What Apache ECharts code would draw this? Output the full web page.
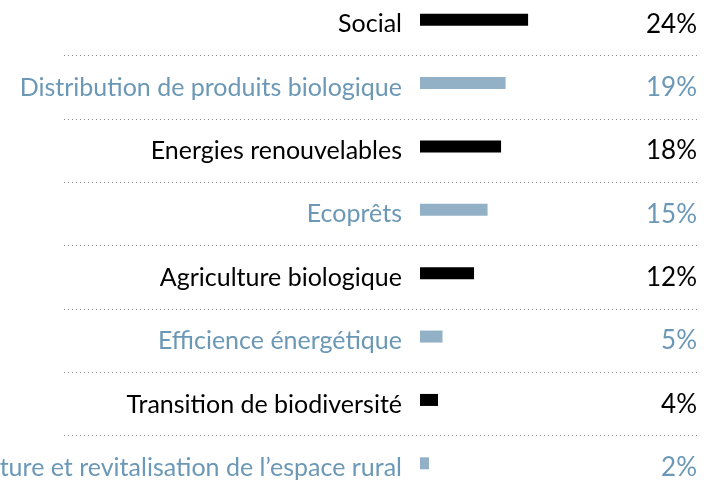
<!DOCTYPE html>
<html>
<head>
<meta charset="utf-8">
<script src="https://cdn.jsdelivr.net/npm/echarts@6/dist/echarts.min.js"></script>
<style>
html,body{margin:0;padding:0;background:#fff;}
#chart{width:704px;height:495px;}
</style>
</head>
<body>
<div id="chart"></div>
<script>
const categories = [
  "Social",
  "Distribution de produits biologique",
  "Energies renouvelables",
  "Ecoprêts",
  "Agriculture biologique",
  "Efficience énergétique",
  "Transition de biodiversité",
  "Agriculture et revitalisation de l\u2019espace rural"
];
const values = [24, 19, 18, 15, 12, 5, 4, 2];
const valueLabels = ["24%", "19%", "18%", "15%", "12%", "5%", "4%", "2%"];

const BLACK = "#000000";
const BLUE_BAR = "#92b0c6";
const BLUE_TEXT = "#6b98b6";
const FONT = "Lato";

const chart = echarts.init(document.getElementById('chart'), null, {renderer: 'canvas'});
const colorAt = (i, a, b) => (i % 2 === 0 ? a : b);

const hiddenCat = (gridIndex, extra) => Object.assign({
  type: 'category', gridIndex, data: categories, inverse: true,
  axisLine: {show: false}, axisTick: {show: false}, axisLabel: {show: false}, splitLine: {show: false}
}, extra || {});

chart.setOption({
  animation: false,
  backgroundColor: '#ffffff',
  grid: [
    {left: 420, right: 7, top: -12, bottom: 0, containLabel: false, outerBoundsMode: 'none'},
    {left: 420, right: 7, top: -7.5, bottom: -4.5, containLabel: false, outerBoundsMode: 'none'},
    {left: 64, right: 4, top: -8, bottom: -4, containLabel: false, outerBoundsMode: 'none'}
  ],
  xAxis: [
    {type: 'value', gridIndex: 0, min: 0, max: 61.5, show: false},
    {type: 'value', gridIndex: 1, min: 0, max: 1, show: false},
    {type: 'value', gridIndex: 2, min: 0, max: 1, show: false}
  ],
  yAxis: [
    hiddenCat(0),
    hiddenCat(1, {
      axisLabel: {
        show: true, margin: 18, fontFamily: FONT, fontSize: 25,
        color: (v, i) => colorAt(i, BLACK, BLUE_TEXT)
      }
    }),
    {
      type: 'category', gridIndex: 1, data: valueLabels, inverse: true, position: 'right',
      axisLine: {show: false}, axisTick: {show: false}, splitLine: {show: false},
      axisLabel: {
        inside: true, margin: 0, fontFamily: FONT, fontSize: 26,
        color: (v, i) => colorAt(i, BLACK, BLUE_TEXT)
      }
    },
    hiddenCat(2, {
      splitLine: {show: true, lineStyle: {color: '#8a8a8a', width: 1, type: [1, 3]}}
    })
  ],
  series: [{
    type: 'bar',
    xAxisIndex: 0, yAxisIndex: 0,
    data: values.map((v, i) => ({value: v, itemStyle: {color: colorAt(i, BLACK, BLUE_BAR)}})),
    barWidth: 12,
    silent: true
  }]
});
</script>
</body>
</html>
